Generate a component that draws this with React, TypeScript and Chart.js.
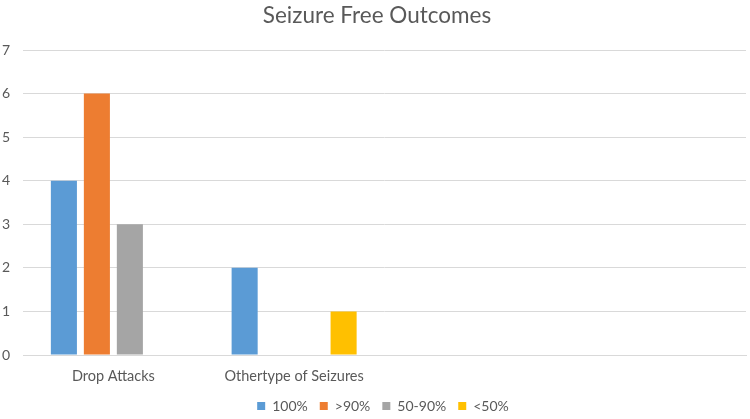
import React, { useEffect, useRef } from "react";
import { Chart, registerables } from "chart.js";

Chart.register(...registerables);

const categories = ["Drop Attacks", "Othertype of Seizures", "", ""];
const seriesNames = ["100%", ">90%", "50-90%", "<50%"];
const v100 = [4, 2, null, null];
const v90 = [6, 0, null, null];
const v5090 = [3, 0, null, null];
const v50 = [0, 1, null, null];
const colors = ["#5B9BD5", "#ED7D31", "#A5A5A5", "#FFC000"];
const yTicks = [0, 1, 2, 3, 4, 5, 6, 7];

const FONT = "Lato, 'Open Sans', sans-serif";

const nudgeBlocks = {
  id: "nudgeBlocks",
  afterLayout(chart: any) {
    if (chart.legend) {
      chart.legend.left += 10;
      chart.legend.right += 10;
    }
    if (chart.titleBlock) {
      chart.titleBlock.left += 4;
      chart.titleBlock.right += 4;
    }
  },
};

export default function App() {
  const ref = useRef<HTMLCanvasElement | null>(null);
  useEffect(() => {
    if (!ref.current) return;
    const values = [v100, v90, v5090, v50];
    const chart = new Chart(ref.current, {
      type: "bar",
      data: {
        labels: categories,
        datasets: seriesNames.map((name, i) => ({
          label: name,
          data: values[i],
          backgroundColor: colors[i],
          borderWidth: 0,
          categoryPercentage: 0.73,
          barPercentage: 0.79,
        })),
      },
      options: {
        responsive: false,
        animation: false,
        layout: { padding: { left: 0, right: 4, top: 0, bottom: 3 } },
        plugins: {
          title: {
            display: true,
            text: "Seizure Free Outcomes",
            color: "#595959",
            font: { family: FONT, size: 22.5, weight: "normal" },
            padding: { top: 2, bottom: 21 },
          },
          legend: {
            position: "bottom",
            maxHeight: 29,
            labels: {
              color: "#595959",
              boxWidth: 8,
              boxHeight: 8,
              padding: 12,
              font: { family: FONT, size: 14 },
            },
          },
          tooltip: { enabled: false },
        },
        scales: {
          x: {
            grid: { display: false, drawTicks: false },
            border: { display: true, color: "#D9D9D9" },
            afterFit: (s: any) => {
              s.height = 32;
            },
            ticks: {
              color: "#595959",
              padding: 13,
              maxRotation: 0,
              font: { family: FONT, size: 14.5 },
            },
          },
          y: {
            min: 0,
            max: 7,
            afterFit: (s: any) => {
              s.width = 23;
            },
            afterBuildTicks: (s: any) => {
              s.ticks = yTicks.map((v) => ({ value: v }));
            },
            grid: { color: "#D9D9D9", drawTicks: false },
            border: { display: false },
            ticks: {
              color: "#595959",
              padding: 13,
              font: { family: FONT, size: 14 },
            },
          },
        },
      },
      plugins: [nudgeBlocks],
    });
    return () => chart.destroy();
  }, []);
  return (
    <div style={{ position: "absolute", left: 0, top: 0, width: 750, height: 419, background: "#fff" }}>
      <canvas ref={ref} width={750} height={419} />
    </div>
  );
}
